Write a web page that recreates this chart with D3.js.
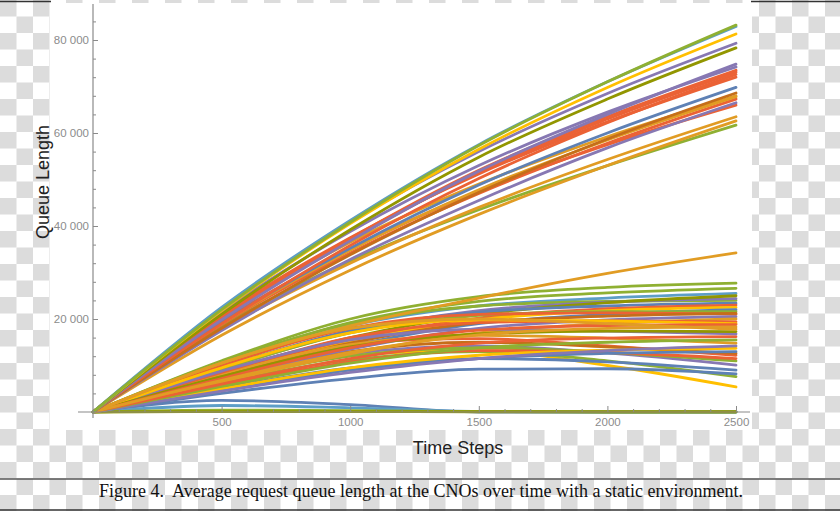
<!DOCTYPE html>
<html>
<head>
<meta charset="utf-8">
<script src="https://cdn.jsdelivr.net/npm/d3@7"></script>
<style>
  html, body { margin: 0; padding: 0; background: #fff; }
  svg { display: block; }
</style>
</head>
<body>
<div id="chart"></div>
<script>
// time samples, every series shares them
const timeSteps = [0, 500, 1000, 1500, 2000, 2500];

// runs that stay near zero
const flatRuns = [
  [0, 2500, 1600, 0, 0, 0],
  [0, 1400, 900, 100, 0, 0],
  [0, 400, 300, 100, 0, 0],
  [0, 100, 100, 50, 50, 50],
];
const flatColors = [0, 6, 2, 9];

// lower bundle (ends between ~5k and ~34k)
const lowRuns = [
  [0, 11000, 20000, 24800, 26800, 27700],
  [0, 7500, 12200, 13200, 10000, 5400],
  [0, 10500, 19200, 23800, 25600, 26600],
  [0, 6400, 11200, 13000, 11000, 7600],
  [0, 10000, 18500, 22800, 24500, 25500],
  [0, 4000, 7200, 9200, 9300, 8200],
  [0, 10800, 19000, 22800, 23800, 24000],
  [0, 5200, 9500, 11500, 10800, 9000],
  [0, 9200, 17200, 21800, 23600, 24400],
  [0, 7000, 12500, 14200, 12700, 10100],
  [0, 8500, 16000, 21000, 23500, 25000],
  [0, 6800, 12000, 13800, 12800, 11000],
  [0, 9500, 17500, 21500, 22800, 23400],
  [0, 5800, 10800, 13200, 12800, 11500],
  [0, 8200, 15500, 20200, 22200, 23000],
  [0, 8800, 14800, 15800, 14200, 12200],
  [0, 8000, 15000, 19800, 21800, 22500],
  [0, 7200, 13000, 15000, 14000, 12600],
  [0, 7500, 14200, 19000, 21000, 22000],
  [0, 4800, 9000, 11500, 12600, 13000],
  [0, 9200, 17000, 20800, 21600, 21600],
  [0, 5000, 9500, 12200, 13300, 13700],
  [0, 10000, 18000, 21000, 21300, 21000],
  [0, 4500, 8500, 11500, 13200, 14200],
  [0, 7800, 14800, 19200, 20600, 21200],
  [0, 8200, 14500, 16500, 15900, 14800],
  [0, 7000, 13500, 18000, 19800, 20500],
  [0, 5500, 10500, 13800, 15000, 15500],
  [0, 6500, 12500, 17000, 19000, 20000],
  [0, 6000, 11500, 14800, 15900, 16200],
  [0, 8500, 16000, 19200, 19600, 19400],
  [0, 8800, 15500, 17800, 17400, 16800],
  [0, 9500, 17000, 19800, 19600, 19000],
  [0, 7600, 14000, 16800, 17400, 17300],
  [0, 7200, 13800, 17600, 18600, 18800],
  [0, 10500, 18000, 20000, 19000, 17800],
  [0, 6800, 12800, 16600, 18000, 18300],
  [0, 10500, 18500, 24500, 29800, 34200],
];
const lowColors = [2, 7, 2, 2, 6, 0, 2, 0, 4, 4, 9, 2, 0, 3, 3, 3, 7, 5, 0, 0,
  2, 7, 3, 4, 5, 1, 4, 2, 1, 3, 3, 4, 7, 9, 3, 1, 1, 1];

// upper bundle (ends between ~62k and ~83k)
const highRuns = [
  [0, 18500, 32500, 43500, 53000, 61700],
  [0, 16500, 30500, 42500, 53000, 62600],
  [0, 17800, 32000, 44000, 54300, 63500],
  [0, 19500, 35000, 47500, 57500, 66000],
  [0, 17500, 32800, 45500, 56800, 66500],
  [0, 18800, 34200, 47000, 57800, 67300],
  [0, 19000, 34800, 47800, 58500, 67800],
  [0, 20500, 36500, 49000, 59200, 68000],
  [0, 18000, 33800, 47200, 58700, 68600],
  [0, 19200, 35200, 48800, 60000, 69800],
  [0, 20800, 37500, 51200, 62400, 72000],
  [0, 19000, 35800, 50200, 62200, 72600],
  [0, 20000, 37000, 51500, 63000, 73100],
  [0, 20300, 37300, 52000, 63500, 73500],
  [0, 21500, 38800, 53000, 64500, 74200],
  [0, 19800, 36800, 51800, 64000, 74800],
  [0, 21000, 39200, 54800, 67300, 78300],
  [0, 22200, 40800, 56000, 68500, 79300],
  [0, 21800, 40500, 56500, 69800, 81300],
  [0, 22500, 41200, 57500, 71000, 82900],
  [0, 22000, 40800, 57300, 71000, 83200],
];
const highColors = [2, 1, 1, 3, 4, 3, 1, 1, 5, 0, 3, 3, 3, 3, 4, 4, 9, 4, 7, 6, 2];

const yMajorTicks = [20000, 40000, 60000, 80000];
const xMajorTicks = [500, 1000, 1500, 2000, 2500];

const palette = ['#5e81b5', '#e19c24', '#8fb032', '#eb6235', '#8778b3',
  '#c56e1a', '#5d9ec7', '#ffbf00', '#a5609d', '#929600'];

const W = 840, H = 511;
const svg = d3.select('#chart').append('svg').attr('width', W).attr('height', H);

// transparent-png style checkerboard backdrop
const sq = 16.5;
const defs = svg.append('defs');
const pat = defs.append('pattern')
  .attr('id', 'checker')
  .attr('patternUnits', 'userSpaceOnUse')
  .attr('width', sq * 2)
  .attr('height', sq * 2);
pat.append('rect').attr('width', sq * 2).attr('height', sq * 2).attr('fill', '#fff');
pat.append('rect').attr('width', sq).attr('height', sq).attr('fill', '#dcdcdc');
pat.append('rect').attr('x', sq).attr('y', sq).attr('width', sq).attr('height', sq).attr('fill', '#dcdcdc');
svg.append('rect').attr('width', W).attr('height', H).attr('fill', 'url(#checker)');

// white plot card
svg.append('rect').attr('x', 50).attr('y', 3).attr('width', 702).attr('height', 427).attr('fill', '#fff');

// frame lines
svg.append('line').attr('x1', 0).attr('x2', 51).attr('y1', 1.5).attr('y2', 1.5).attr('stroke', '#333').attr('stroke-width', 1.5);
svg.append('line').attr('x1', 751).attr('x2', W).attr('y1', 1.5).attr('y2', 1.5).attr('stroke', '#333').attr('stroke-width', 1.5);
svg.append('line').attr('x1', 0).attr('x2', W).attr('y1', 479).attr('y2', 479).attr('stroke', '#555').attr('stroke-width', 1.5);
svg.append('line').attr('x1', 0).attr('x2', W).attr('y1', 510).attr('y2', 510).attr('stroke', '#333').attr('stroke-width', 1.5);

const x = d3.scaleLinear().domain([0, 2500]).range([93, 736]);
const y = d3.scaleLinear().domain([0, 80000]).range([412, 40]);

// series
const line = d3.line()
  .x((d, i) => x(timeSteps[i]))
  .y((d) => y(d))
  .curve(d3.curveMonotoneX);

const series = [];
flatRuns.forEach((r, i) => series.push({ values: r, color: palette[flatColors[i]] }));
lowRuns.forEach((r, i) => series.push({ values: r, color: palette[lowColors[i]] }));
highRuns.forEach((r, i) => series.push({ values: r, color: palette[highColors[i]] }));

svg.append('g')
  .selectAll('path')
  .data(series)
  .enter()
  .append('path')
  .attr('d', (d) => line(d.values))
  .attr('fill', 'none')
  .attr('stroke', (d) => d.color)
  .attr('stroke-width', 2.8)
  .attr('stroke-linejoin', 'round')
  .attr('stroke-linecap', 'round');

// axes (Mathematica style: ticks point inward)
const axisColor = '#8a8a8a';
const fmt = d3.formatLocale({ decimal: '.', thousands: ' ', grouping: [3], currency: ['', ''] }).format(',');

const yMinor = d3.range(4000, 84001, 4000).filter((v) => v % 20000 !== 0);
const xMinor = d3.range(100, 2501, 100).filter((v) => v % 500 !== 0);

const yAxisG = svg.append('g').attr('transform', `translate(${x(0)},0)`);
yAxisG.call(d3.axisLeft(y).tickValues(yMinor).tickSize(-3).tickFormat(''));
yAxisG.select('.domain').remove();
const yAxisMajor = svg.append('g').attr('transform', `translate(${x(0)},0)`);
yAxisMajor.call(d3.axisLeft(y).tickValues(yMajorTicks).tickSize(-5).tickPadding(4).tickFormat(fmt));
yAxisMajor.select('.domain').remove();

const xAxisG = svg.append('g').attr('transform', `translate(0,${y(0)})`);
xAxisG.call(d3.axisBottom(x).tickValues(xMinor).tickSize(-3).tickFormat(''));
xAxisG.select('.domain').remove();
const xAxisMajor = svg.append('g').attr('transform', `translate(0,${y(0)})`);
xAxisMajor.call(d3.axisBottom(x).tickValues(xMajorTicks).tickSize(-6).tickPadding(6).tickFormat(d3.format('d')));
xAxisMajor.select('.domain').remove();

svg.selectAll('.tick line').attr('stroke', axisColor);
svg.selectAll('.tick text')
  .attr('fill', '#8c8c8c')
  .style('font-family', 'Liberation Sans, Arial, sans-serif')
  .style('font-size', '11.5px');

// axis lines
svg.append('line').attr('x1', x(0)).attr('x2', x(0)).attr('y1', 4).attr('y2', 418).attr('stroke', axisColor).attr('stroke-width', 1.2);
svg.append('line').attr('x1', 78).attr('x2', 750).attr('y1', y(0)).attr('y2', y(0)).attr('stroke', axisColor).attr('stroke-width', 1.2);

// axis titles
svg.append('text')
  .attr('x', 458)
  .attr('y', 454)
  .attr('text-anchor', 'middle')
  .style('font-family', 'Liberation Sans, Arial, sans-serif')
  .style('font-size', '18px')
  .attr('fill', '#222')
  .text('Time Steps');

svg.append('text')
  .attr('transform', 'translate(49,182) rotate(-90)')
  .attr('text-anchor', 'middle')
  .style('font-family', 'Liberation Sans, Arial, sans-serif')
  .style('font-size', '18px')
  .attr('fill', '#222')
  .text('Queue Length');

// caption
svg.append('text')
  .attr('x', 421)
  .attr('y', 497)
  .attr('text-anchor', 'middle')
  .style('font-family', 'Liberation Serif, Times New Roman, serif')
  .style('font-size', '18px')
  .attr('fill', '#111')
  .style('white-space', 'pre')
  .text('Figure 4.  Average request queue length at the CNOs over time with a static environment.');
</script>
</body>
</html>
